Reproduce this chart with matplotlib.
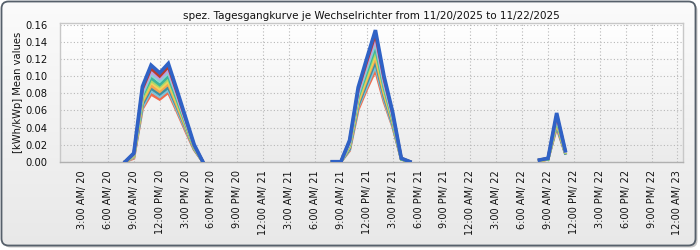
import numpy as np
import matplotlib
matplotlib.use("Agg")
import matplotlib.pyplot as plt
from matplotlib.patches import FancyBboxPatch

# ---------------- data ----------------
title = "spez. Tagesgangkurve je Wechselrichter from 11/20/2025 to 11/22/2025"
ylabel = "[kWh/kWp] Mean values"

# hours since 11/20 00:00 (one block per day)
hours_day1 = [8, 9, 10, 11, 12, 13, 14, 15, 16, 17]
hours_day2 = [32, 33, 34, 35, 36, 37, 38, 39, 40, 41]
hours_day3 = [56, 57, 58, 59]

series_names = ["WR1", "WR2", "WR3", "WR4", "WR5", "WR6", "WR7", "WR8", "WR9", "WR10", "WR11"]
series_colors = ["#f26b4c", "#80c3d8", "#3d8fa3", "#f3a552", "#f1d35a", "#a6d86c",
                 "#3cb39b", "#86d6d0", "#b9a3e3", "#b83a2c", "#2f62c6"]

day1 = {
    "WR11": [0, 0.010, 0.088, 0.113, 0.104, 0.115, 0.084, 0.052, 0.020, 0],
    "WR10": [0, 0.009, 0.085, 0.109, 0.100, 0.111, 0.081, 0.050, 0.019, 0],
    "WR9":  [0, 0.009, 0.082, 0.105, 0.097, 0.107, 0.078, 0.048, 0.019, 0],
    "WR8":  [0, 0.008, 0.079, 0.102, 0.094, 0.104, 0.076, 0.047, 0.018, 0],
    "WR7":  [0, 0.008, 0.077, 0.098, 0.090, 0.100, 0.073, 0.045, 0.017, 0],
    "WR6":  [0, 0.007, 0.074, 0.095, 0.088, 0.097, 0.071, 0.044, 0.017, 0],
    "WR5":  [0, 0.007, 0.072, 0.093, 0.085, 0.094, 0.069, 0.043, 0.016, 0],
    "WR4":  [0, 0.006, 0.070, 0.089, 0.082, 0.091, 0.066, 0.041, 0.016, 0],
    "WR3":  [0, 0.006, 0.067, 0.086, 0.079, 0.087, 0.064, 0.040, 0.015, 0],
    "WR2":  [0, 0.005, 0.064, 0.083, 0.076, 0.084, 0.061, 0.038, 0.015, 0],
    "WR1":  [0, 0.004, 0.062, 0.079, 0.073, 0.081, 0.059, 0.036, 0.014, 0],
}
day2 = {
    "WR11": [0, 0, 0.025, 0.087, 0.121, 0.154, 0.100, 0.058, 0.004, 0],
    "WR10": [0, 0, 0.024, 0.084, 0.117, 0.149, 0.097, 0.056, 0.004, 0],
    "WR9":  [0, 0, 0.022, 0.081, 0.113, 0.143, 0.093, 0.054, 0.004, 0],
    "WR8":  [0, 0, 0.021, 0.078, 0.109, 0.139, 0.090, 0.052, 0.004, 0],
    "WR7":  [0, 0, 0.020, 0.076, 0.105, 0.134, 0.087, 0.050, 0.003, 0],
    "WR6":  [0, 0, 0.019, 0.074, 0.102, 0.130, 0.085, 0.049, 0.003, 0],
    "WR5":  [0, 0, 0.018, 0.071, 0.099, 0.126, 0.082, 0.048, 0.003, 0],
    "WR4":  [0, 0, 0.017, 0.069, 0.096, 0.122, 0.079, 0.046, 0.003, 0],
    "WR3":  [0, 0, 0.015, 0.066, 0.092, 0.117, 0.076, 0.044, 0.003, 0],
    "WR2":  [0, 0, 0.014, 0.064, 0.088, 0.112, 0.073, 0.042, 0.003, 0],
    "WR1":  [0, 0, 0.013, 0.061, 0.085, 0.107, 0.070, 0.041, 0.003, 0],
}
day3 = {
    "WR11": [0.002, 0.004, 0.057, 0.013],
    "WR10": [0.002, 0.004, 0.055, 0.013],
    "WR9":  [0.002, 0.004, 0.053, 0.012],
    "WR8":  [0.002, 0.004, 0.052, 0.012],
    "WR7":  [0.002, 0.003, 0.050, 0.012],
    "WR6":  [0.002, 0.003, 0.048, 0.011],
    "WR5":  [0.001, 0.003, 0.047, 0.011],
    "WR4":  [0.001, 0.003, 0.045, 0.011],
    "WR3":  [0.001, 0.003, 0.043, 0.010],
    "WR2":  [0.001, 0.003, 0.042, 0.010],
    "WR1":  [0.001, 0.003, 0.040, 0.010],
}

tick_hours = [3, 6, 9, 12, 15, 18, 21, 24, 27, 30, 33, 36, 39, 42, 45, 48,
              51, 54, 57, 60, 63, 66, 69, 72]
tick_labels = ["3:00 AM/ 20", "6:00 AM/ 20", "9:00 AM/ 20", "12:00 PM/ 20", "3:00 PM/ 20",
               "6:00 PM/ 20", "9:00 PM/ 20", "12:00 AM/ 21", "3:00 AM/ 21", "6:00 AM/ 21",
               "9:00 AM/ 21", "12:00 PM/ 21", "3:00 PM/ 21", "6:00 PM/ 21", "9:00 PM/ 21",
               "12:00 AM/ 22", "3:00 AM/ 22", "6:00 AM/ 22", "9:00 AM/ 22", "12:00 PM/ 22",
               "3:00 PM/ 22", "6:00 PM/ 22", "9:00 PM/ 22", "12:00 AM/ 23"]
y_ticks = [0.00, 0.02, 0.04, 0.06, 0.08, 0.10, 0.12, 0.14, 0.16]

# ---------------- figure ----------------
W, H = 700, 250
fig = plt.figure(figsize=(W / 100, H / 100), dpi=100)
fig.patch.set_facecolor("white")

# background panel with rounded border
bg = fig.add_axes([0, 0, 1, 1])
bg.set_xlim(0, W)
bg.set_ylim(H, 0)
bg.axis("off")
grad = np.linspace(0, 1, 256).reshape(-1, 1)
shadow = FancyBboxPatch((3.5, 3.5), W - 6, H - 6, boxstyle="round,pad=0,rounding_size=7",
                        facecolor="#c9c9c9", edgecolor="none", zorder=0)
bg.add_patch(shadow)
panel = FancyBboxPatch((1.5, 1.5), W - 6, H - 6, boxstyle="round,pad=0,rounding_size=7",
                       facecolor="none", edgecolor="#56606b", linewidth=1.3, zorder=3)
bg.add_patch(panel)
img = bg.imshow(grad, extent=(0, W, H, 0), aspect="auto",
                cmap=matplotlib.colors.LinearSegmentedColormap.from_list(
                    "g", ["#fbfbfb", "#e8e8e8"]), zorder=1)
img.set_clip_path(panel)

# plot axes
left_px, right_px, top_px, bot_px = 60, 683, 23.3, 161.7
ax = fig.add_axes([left_px / W, 1 - bot_px / H, (right_px - left_px) / W, (bot_px - top_px) / H])
ax.set_facecolor("none")
ax.imshow(grad, extent=(0, 1, 0, 1), transform=ax.transAxes, aspect="auto",
          cmap=matplotlib.colors.LinearSegmentedColormap.from_list("g2", ["#ffffff", "#ebebeb"]),
          zorder=0)

for name, col in zip(series_names, series_colors):
    lw = 2.6 if name == "WR11" else 2.1
    for hrs, d in ((hours_day1, day1), (hours_day2, day2), (hours_day3, day3)):
        ax.plot(hrs, d[name], color=col, linewidth=lw, solid_joinstyle="miter", zorder=3)

ax.set_xlim(0.45, 72.64)
ax.set_ylim(0, 0.162)
ax.set_xticks(tick_hours)
ax.set_xticklabels(tick_labels, rotation=90, fontsize=7, family="DejaVu Sans", color="#111111")
ax.set_yticks(y_ticks)
ax.set_yticklabels([f"{v:.2f}" for v in y_ticks], fontsize=7.2, family="DejaVu Sans", color="#111111")
ax.tick_params(axis="both", length=0)
ax.tick_params(axis="x", pad=6)
ax.tick_params(axis="y", pad=9)
ax.grid(True, color="#b8b8b8", linestyle=(0, (1, 2)), linewidth=0.8, zorder=1)
ax.set_axisbelow(True)
for s in ax.spines.values():
    s.set_color("#c8c8c8")
    s.set_linewidth(1.0)
ax.spines["bottom"].set_color("#b0b0b0")

ax.set_title(title, fontsize=7.5, family="DejaVu Sans", color="#111111", pad=3)
fig.text(18 / W, 1 - 92 / H, ylabel, rotation=90, ha="center", va="center",
         fontsize=7.2, family="DejaVu Sans", color="#111111")

fig.savefig("out.png", dpi=100)
